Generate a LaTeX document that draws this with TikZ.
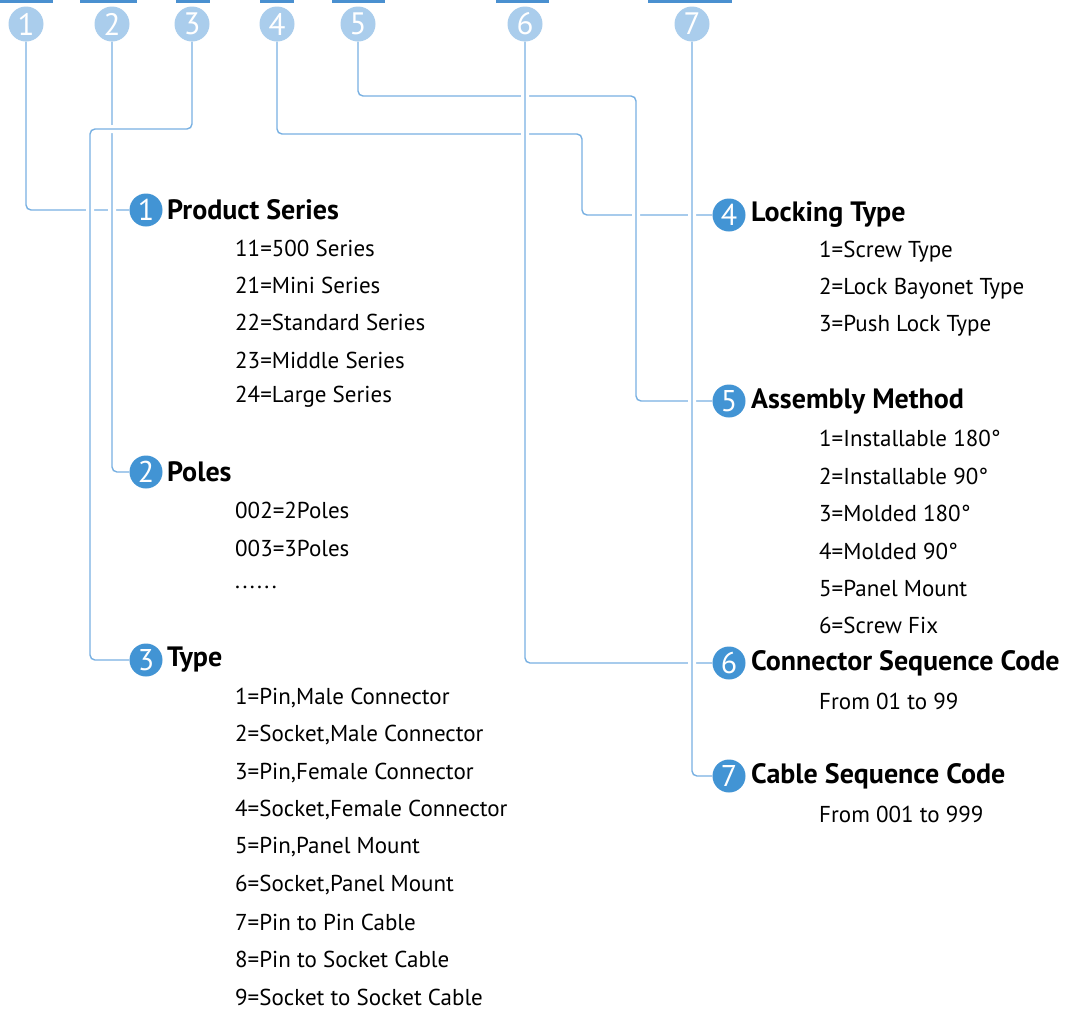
\documentclass[tikz,border=0pt]{standalone}
\usepackage{fontspec}
\setmainfont{PT Sans}
\usetikzlibrary{backgrounds}
\definecolor{barblue}{RGB}{74,144,208}
\definecolor{lightc}{RGB}{170,205,236}
\definecolor{darkc}{RGB}{66,148,212}
\definecolor{lineblue}{RGB}{120,176,226}
\tikzset{
  topc/.style={circle,fill=lightc,minimum size=35pt,inner sep=0pt,text=white,font=\fontsize{31}{31}\selectfont},
  numc/.style={circle,fill=darkc,minimum size=33pt,inner sep=0pt,text=white,font=\fontsize{30}{30}\selectfont},
  head/.style={anchor=west,inner sep=0pt,font=\fontsize{28}{32}\selectfont\bfseries},
  item/.style={anchor=west,inner sep=0pt,font=\fontsize{23}{27}\selectfont},
  conn/.style={draw=lineblue,line width=1.4pt,rounded corners=5pt,preaction={draw=white,line width=8pt}},
}
\begin{document}
\begin{tikzpicture}[x=1pt,y=-1pt]
\useasboundingbox (0,0) rectangle (1073,1015);
% top bars
\fill[barblue] (0,0) rectangle (53,3);
\fill[barblue] (80,0) rectangle (137,3);
\fill[barblue] (176,0) rectangle (210,3);
\fill[barblue] (260,0) rectangle (294,3);
\fill[barblue] (332,0) rectangle (385,3);
\fill[barblue] (496,0) rectangle (549,3);
\fill[barblue] (648,0) rectangle (732,3);
% top circles
\node[topc] (t1) at (26,24) {1};
\node[topc] (t2) at (112,24) {2};
\node[topc] (t3) at (192,24) {3};
\node[topc] (t4) at (277,24) {4};
\node[topc] (t5) at (358,24) {5};
\node[topc] (t6) at (525,24) {6};
\node[topc] (t7) at (692,24) {7};
% left groups
\node[numc] (c1) at (146,210) {1};
\node[head] (h1) at (167,210) {Product Series};
\node[item] (i11) at (235,248) {11=500 Series};
\node[item] (i12) at (235,285) {21=Mini Series};
\node[item] (i13) at (235,322) {22=Standard Series};
\node[item] (i14) at (235,360) {23=Middle Series};
\node[item] (i15) at (235,397) {24=Large Series};
\node[numc] (c2) at (146,472) {2};
\node[head] (h2) at (167,472) {Poles};
\node[item] (i21) at (235,510) {002=2Poles};
\node[item] (i22) at (235,548) {003=3Poles};
\node[item] (i23) at (235,587) {.\kern2.4pt.\kern2.4pt.\kern2.4pt.\kern2.4pt.\kern2.4pt.};
\node[numc] (c3) at (146,660) {3};
\node[head] (h3) at (167,660) {Type};
\node[item] (i31) at (235,698) {1=Pin,Male Connector};
\node[item] (i32) at (235,735) {2=Socket,Male Connector};
\node[item] (i33) at (235,773) {3=Pin,Female Connector};
\node[item] (i34) at (235,810) {4=Socket,Female Connector};
\node[item] (i35) at (235,847) {5=Pin,Panel Mount};
\node[item] (i36) at (235,885) {6=Socket,Panel Mount};
\node[item] (i37) at (235,922) {7=Pin to Pin Cable};
\node[item] (i38) at (235,959) {8=Pin to Socket Cable};
\node[item] (i39) at (235,997) {9=Socket to Socket Cable};
% right groups
\node[numc] (c4) at (729,215) {4};
\node[head] (h4) at (751,215) {Locking Type};
\node[item] (i41) at (819,252) {1=Screw Type};
\node[item] (i42) at (819,289) {2=Lock Bayonet Type};
\node[item] (i43) at (819,326) {3=Push Lock Type};
\node[numc] (c5) at (729,401) {5};
\node[head] (h5) at (751,401) {Assembly Method};
\node[item] (i51) at (819,438) {1=Installable 180°};
\node[item] (i52) at (819,476) {2=Installable 90°};
\node[item] (i53) at (819,513) {3=Molded 180°};
\node[item] (i54) at (819,551) {4=Molded 90°};
\node[item] (i55) at (819,588) {5=Panel Mount};
\node[item] (i56) at (819,625) {6=Screw Fix};
\node[numc] (c6) at (729,663) {6};
\node[head] (h6) at (751,663) {Connector Sequence Code};
\node[item] (i61) at (819,701) {From 01 to 99};
\node[numc] (c7) at (729,776) {7};
\node[head] (h7) at (751,776) {Cable Sequence Code};
\node[item] (i71) at (819,814) {From 001 to 999};
% junctions
\coordinate (j3) at (90,129);
\coordinate (j4) at (582,134);
\coordinate (j5) at (636,96);
\begin{pgfonlayer}{background}
\fill[white] (0,0) rectangle (1073,1015);
\draw[conn] (t1.south) |- (c1.west);
\draw[conn] (t2.south) |- (c2.west);
\draw[conn] (t3.south) |- (j3) |- (c3.west);
\draw[conn] (t4.south) |- (j4) |- (c4.west);
\draw[conn] (t5.south) |- (j5) |- (c5.west);
\draw[conn] (t6.south) |- (c6.west);
\draw[conn] (t7.south) |- (c7.west);
\end{pgfonlayer}
\end{tikzpicture}
\end{document}
